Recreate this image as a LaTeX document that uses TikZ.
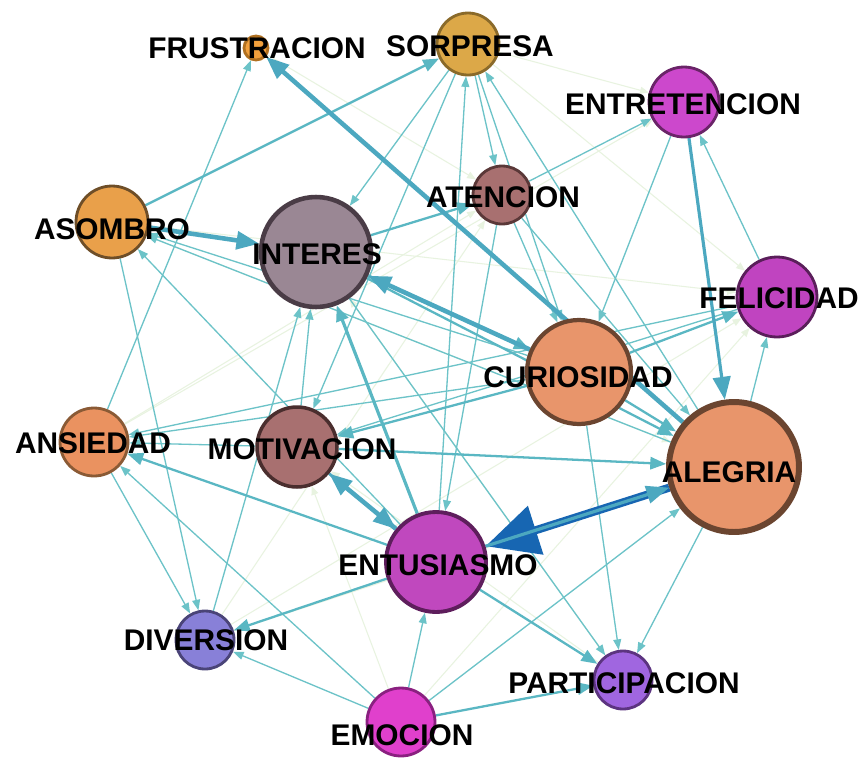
\documentclass[tikz,border=0pt]{standalone}
\usepackage{fontspec}
\setmainfont{Liberation Sans}
\usetikzlibrary{arrows.meta}
\pgfdeclarelayer{back}
\pgfdeclarelayer{edges}
\pgfsetlayers{back,edges,main}

\definecolor{linkA}{HTML}{6CC3C8}
\definecolor{linkB}{HTML}{5AB7C3}
\definecolor{linkC}{HTML}{4CA8C0}
\definecolor{linkD}{HTML}{1766B2}
\definecolor{linkF}{HTML}{E8F3E0}

\tikzset{
  emo/.style={circle, inner sep=0pt, line width=1.6pt},
  lbl/.style={font=\bfseries\fontsize{17}{19}\selectfont, inner sep=0pt},
  thinlink/.style={draw=linkA, line width=0.75pt, -{Triangle[length=6pt,width=4.5pt]}},
  midlink/.style={draw=linkB, line width=1.3pt, -{Triangle[length=9pt,width=7pt]}},
  thicklink/.style={draw=linkC, line width=2.6pt, -{Triangle[length=13pt,width=10pt]}},
  faintlink/.style={draw=linkF, line width=0.6pt, -{Triangle[length=5pt,width=4pt]}}
}

\begin{document}
\begin{tikzpicture}[x=0.02cm, y=-0.02cm]
  \begin{pgfonlayer}{back}
  \useasboundingbox[fill=white] (0,0) rectangle (859,756);
  \end{pgfonlayer}

  % emociones
  \node[emo, fill={rgb,255:red,242;green,160;blue,60}, draw={rgb,255:red,176;green,112;blue,32}, minimum size=0.48cm] (frustracion) at (256,48) {};
  \node[emo, fill={rgb,255:red,220;green,168;blue,72}, draw={rgb,255:red,138;green,106;blue,42}, minimum size=1.24cm] (sorpresa) at (468,44) {};
  \node[emo, fill={rgb,255:red,204;green,72;blue,204}, draw={rgb,255:red,106;green,36;blue,104}, minimum size=1.4cm] (entretencion) at (684,102) {};
  \node[emo, fill={rgb,255:red,168;green,112;blue,112}, draw={rgb,255:red,90;green,56;blue,56}, minimum size=1.16cm] (atencion) at (502,195) {};
  \node[emo, fill={rgb,255:red,233;green,160;blue,74}, draw={rgb,255:red,110;green,78;blue,40}, minimum size=1.44cm] (asombro) at (112,222) {};
  \node[emo, fill={rgb,255:red,154;green,135;blue,148}, draw={rgb,255:red,74;green,60;blue,70}, minimum size=2.2cm, line width=2.6pt] (interes) at (316,252) {};
  \node[emo, fill={rgb,255:red,192;green,68;blue,192}, draw={rgb,255:red,90;green,30;blue,90}, minimum size=1.6cm] (felicidad) at (777,297) {};
  \node[emo, fill={rgb,255:red,232;green,149;blue,107}, draw={rgb,255:red,107;green,69;blue,48}, minimum size=2.08cm, line width=2.4pt] (curiosidad) at (579,372) {};
  \node[emo, fill={rgb,255:red,234;green,146;blue,96}, draw={rgb,255:red,138;green,90;blue,53}, minimum size=1.36cm] (ansiedad) at (94,442) {};
  \node[emo, fill={rgb,255:red,168;green,112;blue,112}, draw={rgb,255:red,74;green,46;blue,46}, minimum size=1.6cm, line width=2pt] (motivacion) at (297,447) {};
  \node[emo, fill={rgb,255:red,232;green,149;blue,107}, draw={rgb,255:red,107;green,69;blue,48}, minimum size=2.6cm, line width=3.4pt] (alegria) at (734,467) {};
  \node[emo, fill={rgb,255:red,192;green,72;blue,190}, draw={rgb,255:red,94;green,30;blue,92}, minimum size=2cm, line width=2.2pt] (entusiasmo) at (436,562) {};
  \node[emo, fill={rgb,255:red,136;green,128;blue,216}, draw={rgb,255:red,74;green,68;blue,120}, minimum size=1.16cm] (diversion) at (205,640) {};
  \node[emo, fill={rgb,255:red,160;green,102;blue,224}, draw={rgb,255:red,92;green,52;blue,128}, minimum size=1.16cm] (participacion) at (623,680) {};
  \node[emo, fill={rgb,255:red,224;green,64;blue,204}, draw={rgb,255:red,138;green,32;blue,128}, minimum size=1.36cm] (emocion) at (401,722) {};

  % nombres
  \node[lbl] (t-frustracion) at (257,48) {FRUSTRACION};
  \node[lbl] (t-sorpresa) at (470,46) {SORPRESA};
  \node[lbl] (t-entretencion) at (683,104) {ENTRETENCION};
  \node[lbl] (t-atencion) at (503,197) {ATENCION};
  \node[lbl] (t-asombro) at (112,229) {ASOMBRO};
  \node[lbl] (t-interes) at (317,254) {INTERES};
  \node[lbl] (t-felicidad) at (779,298) {FELICIDAD};
  \node[lbl] (t-curiosidad) at (578,377) {CURIOSIDAD};
  \node[lbl] (t-ansiedad) at (93,443) {ANSIEDAD};
  \node[lbl] (t-motivacion) at (302,449) {MOTIVACION};
  \node[lbl] (t-alegria) at (729,472) {ALEGRIA};
  \node[lbl] (t-entusiasmo) at (438,565) {ENTUSIASMO};
  \node[lbl] (t-diversion) at (206,640) {DIVERSION};
  \node[lbl] (t-participacion) at (624,683) {PARTICIPACION};
  \node[lbl] (t-emocion) at (402,735) {EMOCION};

  \begin{pgfonlayer}{edges}
  % debiles
  \draw[faintlink] (ansiedad) -- (entretencion);
  \draw[faintlink] (asombro) -- (felicidad);
  \draw[faintlink] (diversion) -- (atencion);
  \draw[faintlink] (participacion) -- (interes);
  \draw[faintlink] (diversion) -- (alegria);
  \draw[faintlink] (sorpresa) -- (entretencion);
  \draw[faintlink] (frustracion) -- (atencion);
  \draw[faintlink] (asombro) -- (alegria);
  \draw[faintlink] (ansiedad) -- (atencion);
  \draw[faintlink] (diversion) -- (felicidad);
  \draw[faintlink] (emocion) -- (motivacion);
  \draw[faintlink] (participacion) -- (motivacion);
  \draw[faintlink] (sorpresa) -- (felicidad);
  \draw[faintlink] (emocion) -- (felicidad);

  % finas
  \draw[thinlink] (ansiedad) -- (frustracion);
  \draw[thinlink] (sorpresa) -- (atencion);
  \draw[thinlink] (alegria) -- (sorpresa);
  \draw[thinlink] (atencion) -- (entretencion);
  \draw[thinlink] (atencion) -- (alegria);
  \draw[thinlink] (entretencion) -- (curiosidad);
  \draw[thinlink] (felicidad) -- (entretencion);
  \draw[thinlink] (alegria) -- (felicidad);
  \draw[thinlink] (emocion) -- (diversion);
  \draw[thinlink] (emocion) -- (entusiasmo);
  \draw[thinlink] (emocion) -- (alegria);
  \draw[thinlink] (emocion) -- (ansiedad);
  \draw[thinlink] (interes) -- (participacion);
  \draw[thinlink] (curiosidad) -- (participacion);
  \draw[thinlink] (alegria) -- (participacion);
  \draw[thinlink] (diversion) -- (interes);
  \draw[thinlink] (motivacion) -- (interes);
  \draw[thinlink] (entusiasmo) -- (sorpresa);
  \draw[thinlink] (curiosidad) -- (asombro);
  \draw[thinlink] (alegria) -- (asombro);
  \draw[thinlink] (asombro) -- (diversion);
  \draw[thinlink] (ansiedad) -- (diversion);
  \draw[thinlink] (entusiasmo) -- (asombro);
  \draw[thinlink] (sorpresa) -- (interes);
  \draw[thinlink] (curiosidad) -- (ansiedad);
  \draw[thinlink] (felicidad) -- (ansiedad);
  \draw[thinlink] (motivacion) -- (ansiedad);
  \draw[thinlink] (atencion) -- (entusiasmo);
  \draw[thinlink] (sorpresa) -- (curiosidad);
  \draw[thinlink] (atencion) -- (curiosidad);
  \draw[thinlink] (sorpresa) -- (motivacion);
  \draw[thinlink] (felicidad) -- (motivacion);

  % medias
  \draw[midlink] (asombro) -- (sorpresa);
  \draw[midlink] (interes) -- (atencion);
  \draw[midlink] (curiosidad) -- (felicidad);
  \draw[midlink] (motivacion) -- (alegria);
  \draw[midlink] (curiosidad) -- (motivacion);
  \draw[midlink] (entusiasmo) -- (ansiedad);
  \draw[midlink] (entusiasmo) -- (diversion);
  \draw[midlink] (emocion) -- (participacion);
  \draw[midlink] (entusiasmo) -- (participacion);
  \draw[midlink, line width=1.8pt] (entusiasmo) -- (interes);
  \draw[midlink] (curiosidad) -- (alegria);
  \draw[midlink] (interes) -- (alegria);
  \draw[midlink, line width=1.8pt] (interes) -- (curiosidad);

  % gruesas
  \draw[thicklink] (alegria) -- (frustracion);
  \draw[thicklink] (asombro) -- (interes);
  \draw[thicklink] (curiosidad) -- (interes);
  \draw[thicklink] (entusiasmo) -- (motivacion);
  \draw[thicklink, line width=1.6pt] (motivacion) -- (entusiasmo);
  \draw[thicklink, line width=1.8pt] (entretencion) -- (alegria);
  \draw[draw=linkD, line width=4.6pt, -{Triangle[length=30pt,width=28pt]}] (alegria) -- (entusiasmo);
  \draw[thicklink, line width=1.8pt] (entusiasmo) -- (alegria);
  \end{pgfonlayer}
\end{tikzpicture}
\end{document}
